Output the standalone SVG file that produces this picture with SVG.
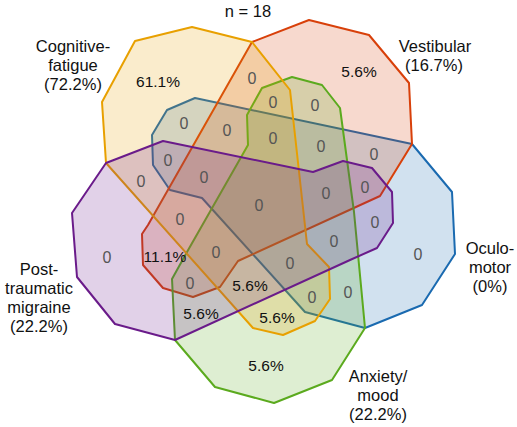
<svg xmlns="http://www.w3.org/2000/svg" width="517" height="427" viewBox="0 0 517 427">
<style>
.set{stroke-width:2;stroke-linejoin:round;fill-opacity:0.2}
.lbl{font-family:"Liberation Sans",Arial,Helvetica,sans-serif;font-size:16.5px;fill:#111;text-anchor:middle}
.pct{font-family:"Liberation Sans",Arial,Helvetica,sans-serif;font-size:15.5px;fill:#111;text-anchor:middle}
.z{font-family:"Liberation Sans",Arial,Helvetica,sans-serif;font-size:16px;fill:#555;text-anchor:middle}
</style>
<rect width="517" height="427" fill="#fff"/>
<text class="lbl" x="248" y="17">n = 18</text>
<g id="oculomotor">
<polygon class="set" fill="#1A6AB0" stroke="#1A6AB0" points="195,98 412,144 452,192 455,254 422,305 365,328 305,312 202,198 170,190 153,165 152,135 167,110"/>
<text class="lbl" x="490" y="254">Oculo-</text>
<text class="lbl" x="490" y="273">motor</text>
<text class="lbl" x="490" y="292">(0%)</text>
</g>
<g id="vestibular">
<polygon class="set" fill="#D8400A" stroke="#D8400A" points="252,42 309,20 369,35 409,83 412,144 380,196 238,261 220,287 193,297 163,288 143,265 142,234 148,225"/>
<text class="lbl" x="435" y="52">Vestibular</text>
<text class="lbl" x="434" y="70.5">(16.7%)</text>
</g>
<g id="anxiety-mood">
<polygon class="set" fill="#5BAA1E" stroke="#5BAA1E" points="262,88 292,77 322,85 340,108 354,212 365,328 332,380 274,403 215,387 175,340 172,279 187,252 248,145 247,115"/>
<text class="lbl" x="378" y="382">Anxiety/</text>
<text class="lbl" x="378" y="401">mood</text>
<text class="lbl" x="378" y="420">(22.2%)</text>
</g>
<g id="cognitive-fatigue">
<polygon class="set" fill="#E8A000" stroke="#E8A000" points="192,27 252,42 290,90 307,244 329,267 330,299 315,321 283,335 253,328 106,163 102,102 135,41"/>
<text class="lbl" x="73" y="51.5">Cognitive-</text>
<text class="lbl" x="73" y="70.5">fatigue</text>
<text class="lbl" x="73" y="89.5">(72.2%)</text>
</g>
<g id="post-traumatic-migraine">
<polygon class="set" fill="#6A1B8A" stroke="#6A1B8A" points="106,163 163,141 313,172 343,161 372,168 392,192 393,223 377,248 350,260 175,340 115,324 77,277 72,213"/>
<text class="lbl" x="39" y="275">Post-</text>
<text class="lbl" x="39" y="294">traumatic</text>
<text class="lbl" x="39" y="313">migraine</text>
<text class="lbl" x="39" y="332">(22.2%)</text>
</g>
<g id="region-counts">
<text class="pct" x="158" y="87">61.1%</text>
<text class="pct" x="359" y="77">5.6%</text>
<text class="pct" x="165" y="262">11.1%</text>
<text class="pct" x="250" y="291">5.6%</text>
<text class="pct" x="201" y="319">5.6%</text>
<text class="pct" x="277" y="323">5.6%</text>
<text class="pct" x="266" y="371">5.6%</text>
<text class="z" x="252" y="84">0</text>
<text class="z" x="184" y="129">0</text>
<text class="z" x="227" y="136">0</text>
<text class="z" x="273" y="108">0</text>
<text class="z" x="315" y="111">0</text>
<text class="z" x="273" y="144">0</text>
<text class="z" x="321" y="152">0</text>
<text class="z" x="374" y="160">0</text>
<text class="z" x="168" y="166">0</text>
<text class="z" x="204" y="183">0</text>
<text class="z" x="141" y="187">0</text>
<text class="z" x="259" y="211">0</text>
<text class="z" x="326" y="199">0</text>
<text class="z" x="365" y="193">0</text>
<text class="z" x="180" y="225">0</text>
<text class="z" x="107" y="263">0</text>
<text class="z" x="216" y="258">0</text>
<text class="z" x="190" y="289">0</text>
<text class="z" x="375" y="228">0</text>
<text class="z" x="334" y="247">0</text>
<text class="z" x="290" y="269">0</text>
<text class="z" x="418" y="260">0</text>
<text class="z" x="312" y="303">0</text>
<text class="z" x="348" y="298">0</text>
</g>
</svg>
